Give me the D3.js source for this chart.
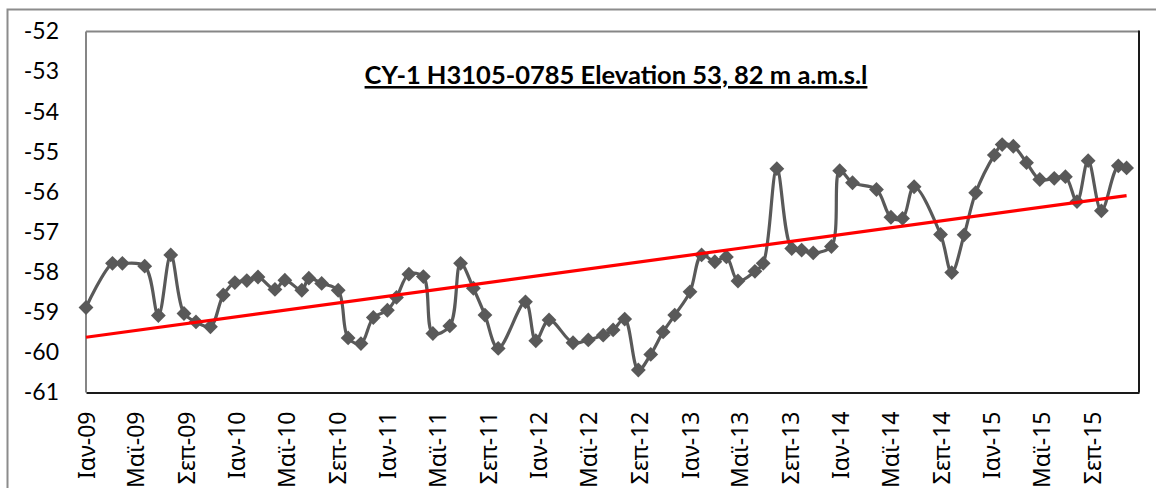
<!DOCTYPE html>
<html>
<head>
<meta charset="utf-8">
<script src="https://cdn.jsdelivr.net/npm/d3@7"></script>
<style>
  body { margin: 0; background: #fff; }
  svg { display: block; font-family: Lato, "Noto Sans", sans-serif; }
</style>
</head>
<body>
<div class="chart"></div>
<script>
var dates = [
  "2009-01-01", "2009-03-06", "2009-03-30", "2009-05-23", "2009-06-25", "2009-07-25",
  "2009-08-26", "2009-09-24", "2009-10-29", "2009-11-29", "2009-12-27", "2010-01-25",
  "2010-02-21", "2010-04-03", "2010-04-27", "2010-06-07", "2010-06-24", "2010-07-25",
  "2010-09-03", "2010-09-27", "2010-10-28", "2010-11-27", "2010-12-31", "2011-01-22",
  "2011-02-21", "2011-03-28", "2011-04-20", "2011-05-31", "2011-06-26", "2011-07-27",
  "2011-08-24", "2011-09-25", "2011-11-30", "2011-12-25", "2012-01-26", "2012-03-24",
  "2012-04-30", "2012-06-05", "2012-06-29", "2012-07-27", "2012-08-29", "2012-09-28",
  "2012-10-28", "2012-11-25", "2013-01-01", "2013-01-29", "2013-03-02", "2013-03-30",
  "2013-04-27", "2013-06-07", "2013-06-27", "2013-07-30", "2013-09-04", "2013-09-28",
  "2013-10-26", "2013-12-09", "2013-12-29", "2014-01-29", "2014-03-28", "2014-05-02",
  "2014-05-30", "2014-06-27", "2014-08-30", "2014-09-26", "2014-10-26", "2014-11-23",
  "2015-01-07", "2015-01-26", "2015-02-22", "2015-03-26", "2015-04-27", "2015-06-01",
  "2015-06-28", "2015-07-26", "2015-08-22", "2015-09-23", "2015-11-03", "2015-11-23"
];
var levels = [
  -58.88, -57.78, -57.78, -57.85, -59.08, -57.57,
  -59.03, -59.24, -59.36, -58.57, -58.26, -58.21,
  -58.12, -58.43, -58.20, -58.45, -58.15, -58.28,
  -58.45, -59.64, -59.78, -59.13, -58.95, -58.63,
  -58.05, -58.11, -59.53, -59.34, -57.78, -58.40,
  -59.07, -59.90, -58.74, -59.71, -59.19, -59.76,
  -59.69, -59.57, -59.44, -59.17, -60.44, -60.05,
  -59.49, -59.07, -58.49, -57.57, -57.74, -57.62,
  -58.22, -57.98, -57.78, -55.42, -57.41, -57.45,
  -57.52, -57.36, -55.47, -55.77, -55.94, -56.63,
  -56.66, -55.87, -57.06, -58.01, -57.07, -56.02,
  -55.08, -54.82, -54.86, -55.27, -55.69, -55.66,
  -55.62, -56.24, -55.22, -56.47, -55.35, -55.40
];
var yTicks = [-52, -53, -54, -55, -56, -57, -58, -59, -60, -61];
var monthNames = ["Ιαν", "Φεβ", "Μαρ", "Απρ", "Μαϊ", "Ιουν", "Ιουλ", "Αυγ", "Σεπ", "Οκτ", "Νοε", "Δεκ"];
var axisStart = "2009-01-01", axisEnd = "2015-12-23";
var title = "CY-1 H3105-0785 Elevation 53, 82 m a.m.s.l";

var parse = d3.timeParse("%Y-%m-%d");
var data = dates.map(function (d, i) { return { date: parse(d), level: levels[i] }; });

var svgWidth = 1156, svgHeight = 488;
var margin = { top: 31.5, left: 86, right: 17, bottom: 95.5 };
var width = svgWidth - margin.left - margin.right;
var height = svgHeight - margin.top - margin.bottom;

var svg = d3.select(".chart").append("svg")
    .attr("width", svgWidth)
    .attr("height", svgHeight);

// outer chart frame (cropped at right and bottom)
svg.append("rect")
    .attr("x", 7.5).attr("y", 9.5)
    .attr("width", 1200).attr("height", 600)
    .attr("fill", "none")
    .attr("stroke", "#8c8c8c")
    .attr("stroke-width", 2);

var chartGroup = svg.append("g")
    .attr("transform", `translate(${margin.left}, ${margin.top})`);

var x = d3.scaleTime()
    .domain([parse(axisStart), parse(axisEnd)])
    .range([0, width]);

var y = d3.scaleLinear()
    .domain([-61, -52])
    .range([height, 0]);

// plot area frame
chartGroup.append("line").attr("x1", 0).attr("x2", width).attr("y1", 0).attr("y2", 0)
    .attr("stroke", "#868686").attr("stroke-width", 2);
chartGroup.append("line").attr("x1", 0).attr("x2", 0).attr("y1", 0).attr("y2", height)
    .attr("stroke", "#868686").attr("stroke-width", 2);
chartGroup.append("line").attr("x1", width).attr("x2", width).attr("y1", -1).attr("y2", height)
    .attr("stroke", "#1a1a1a").attr("stroke-width", 2);

// y axis labels
var leftAxis = d3.axisLeft(y)
    .tickValues(yTicks)
    .tickSize(0)
    .tickPadding(27)
    .tickFormat(d => String(d));
var yAxisG = chartGroup.append("g").call(leftAxis);
yAxisG.select(".domain").remove();
yAxisG.selectAll("text")
    .attr("font-family", "Lato, 'Noto Sans', sans-serif")
    .attr("font-size", 23)
    .attr("fill", "#000");

// x axis: every 4 months
var bottomAxis = d3.axisBottom(x)
    .ticks(d3.timeMonth.every(4))
    .tickSize(0)
    .tickFormat(function (d) { return monthNames[d.getMonth()] + "-" + d3.timeFormat("%y")(d); });
var xAxisG = chartGroup.append("g")
    .attr("transform", `translate(0, ${height})`)
    .call(bottomAxis);
xAxisG.select(".domain")
    .attr("stroke", "#1a1a1a").attr("stroke-width", 2);
xAxisG.selectAll("text")
    .attr("font-family", "'Noto Sans', Lato, sans-serif")
    .attr("font-size", 23)
    .attr("fill", "#000")
    .attr("text-anchor", "end")
    .attr("transform", "rotate(-90)")
    .attr("x", -19)
    .attr("y", 0)
    .attr("dy", "0.35em");

// linear trend (least squares on time)
var xs = data.map(d => +d.date), ys = data.map(d => d.level);
var mx = d3.mean(xs), my = d3.mean(ys);
var slope = d3.sum(xs, (v, i) => (v - mx) * (ys[i] - my)) / d3.sum(xs, v => (v - mx) * (v - mx));
var trend = [data[0].date, data[data.length - 1].date].map(function (d) {
    return { date: d, level: my + slope * (+d - mx) };
});

// series line
var line = d3.line()
    .x(d => x(d.date))
    .y(d => y(d.level))
    .curve(d3.curveCatmullRom.alpha(0.5));

chartGroup.append("path")
    .datum(data)
    .attr("d", line)
    .attr("fill", "none")
    .attr("stroke", "#595959")
    .attr("stroke-width", 3.2);

chartGroup.selectAll(".marker")
    .data(data)
    .enter()
    .append("path")
    .attr("class", "marker")
    .attr("d", d3.symbol(d3.symbolSquare, 110))
    .attr("transform", d => `translate(${x(d.date)}, ${y(d.level)}) rotate(45)`)
    .attr("fill", "#595959");

var trendLine = d3.line()
    .x(d => x(d.date))
    .y(d => y(d.level));

chartGroup.append("path")
    .datum(trend)
    .attr("d", trendLine)
    .attr("fill", "none")
    .attr("stroke", "#ff0000")
    .attr("stroke-width", 3.2);

// title
svg.append("text")
    .attr("x", 616)
    .attr("y", 84)
    .attr("text-anchor", "middle")
    .attr("font-family", "Lato, 'Noto Sans', sans-serif")
    .attr("font-weight", "bold")
    .attr("font-size", 25.5)
    .attr("text-decoration", "underline")
    .attr("fill", "#000")
    .text(title);
</script>
</body>
</html>
